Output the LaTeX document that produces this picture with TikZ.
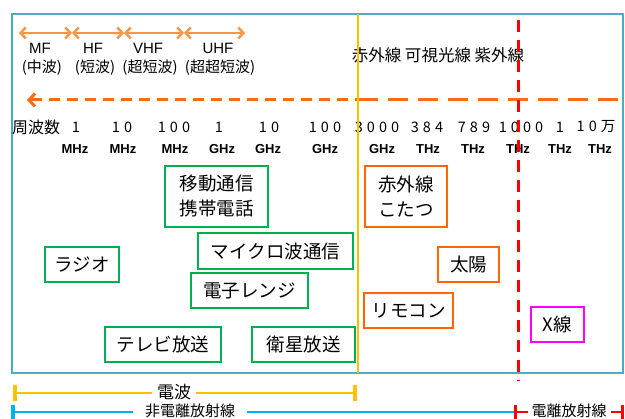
\documentclass[tikz,border=0pt]{standalone}
\usepackage{fontspec}
\setmainfont{Noto Sans CJK JP}
\newfontfamily\latf{Liberation Sans}
\newfontfamily\numf{Noto Sans CJK JP}[LetterSpace=28]
\usetikzlibrary{arrows.meta}
\definecolor{frm}{RGB}{75,172,198}
\definecolor{ylw}{RGB}{255,192,0}
\definecolor{rd}{RGB}{255,0,0}
\definecolor{odsh}{RGB}{255,108,16}
\definecolor{lor}{RGB}{247,150,70}
\definecolor{grn}{RGB}{0,176,80}
\definecolor{bor}{RGB}{255,102,0}
\definecolor{mag}{RGB}{255,0,255}
\definecolor{blu}{RGB}{0,176,240}
\tikzset{
  bx/.style={line width=2pt, inner sep=0pt, font=\fontsize{18.5}{25}\selectfont, align=center},
  gbx/.style={bx, draw=grn},
  obx/.style={bx, draw=bor},
  dblarr/.style={draw=lor, line width=2.5pt, {Straight Barb[length=5pt,width=11pt]}-{Straight Barb[length=5pt,width=11pt]}},
  toplab/.style={inner sep=0pt, font=\latf\fontsize{15}{17}\selectfont},
  topjp/.style={inner sep=0pt, font=\fontsize{15}{17}\selectfont},
  numlab/.style={inner sep=0pt, font=\numf\fontsize{14.5}{16}\selectfont},
  unitlab/.style={inner sep=0pt, font=\latf\bfseries\fontsize{13}{15}\selectfont},
  barlab/.style={inner sep=0pt, inner xsep=5pt, fill=white, font=\fontsize{17}{19}\selectfont},
  barlabs/.style={barlab, font=\fontsize{15}{16}\selectfont},
}
\begin{document}
\begin{tikzpicture}[x=1pt,y=-1pt]
\useasboundingbox (0,0) rectangle (625,419);
% frame
\draw[frm, line width=2pt] (12,14) rectangle (623,373);

% top double arrows
\coordinate (a0) at (19,33);
\coordinate (a1) at (72,33);
\coordinate (a2) at (124,33);
\coordinate (a3) at (184,33);
\coordinate (a4) at (245,33);
\draw[dblarr] (a0) -- (a1);
\draw[dblarr] (a1) -- (a2);
\draw[dblarr] (a2) -- (a3);
\draw[dblarr] (a3) -- (a4);

\node[toplab] (mf) at (40,48) {MF};
\node[toplab] (hf) at (93,48) {HF};
\node[toplab] (vhf) at (148,48) {VHF};
\node[toplab] (uhf) at (218,48) {UHF};
\node[topjp] (mfj) at (42,68) {(中波)};
\node[topjp] (hfj) at (95,68) {(短波)};
\node[topjp] (vhfj) at (150,68) {(超短波)};
\node[topjp] (uhfj) at (220,68) {(超超短波)};

\node[inner sep=0pt, font=\fontsize{16.5}{18}\selectfont] (light) at (438,55) {赤外線 可視光線 紫外線};

% frequency row
\node[inner sep=0pt, anchor=west, font=\fontsize{16}{18}\selectfont] (fq) at (12,127) {周波数};
\foreach \x/\t [count=\i] in {76/1,122/10,174/100,219/1,269/10,325/100,377/3000,427/384,474/789,521/1000,560/1,596/10万}{
  \node[numlab] (n\i) at (\x,127) {\t};
}
\foreach \x/\t [count=\i] in {75/MHz,123/MHz,175/MHz,222/GHz,268/GHz,325/GHz,382/GHz,428/THz,473/THz,518/THz,560/THz,600/THz}{
  \node[unitlab] (u\i) at (\x,149) {\t};
}

% boxes
\node[gbx, minimum width=103pt, minimum height=61pt] (mobile) at (216.5,196.5) {移動通信\\携帯電話};
\node[gbx, minimum width=74pt, minimum height=35pt] (radio) at (82,264.5) {ラジオ};
\node[gbx, minimum width=155pt, minimum height=36pt] (micro) at (275.5,251) {マイクロ波通信};
\node[gbx, minimum width=117pt, minimum height=35pt] (oven) at (249.5,290.5) {電子レンジ};
\node[gbx, minimum width=116pt, minimum height=35pt] (tv) at (163,344.5) {テレビ放送};
\node[gbx, minimum width=103pt, minimum height=35pt] (sat) at (303.5,344.5) {衛星放送};
\node[obx, minimum width=82pt, minimum height=61pt] (ir) at (406,196.5) {赤外線\\こたつ};
\node[obx, minimum width=61pt, minimum height=35pt] (sun) at (468.5,264.5) {太陽};
\node[obx, minimum width=89pt, minimum height=35pt] (remote) at (408.5,310.5) {リモコン};
\node[bx, draw=mag, minimum width=53pt, minimum height=35pt] (xray) at (557.5,324.5) {X線};

% orange dashed arrow line
\coordinate (h0) at (27,100);
\coordinate (h1) at (358,100);
\coordinate (h2) at (623,100);
\draw[odsh, line width=3pt, dash pattern=on 11pt off 7pt, {Straight Barb[length=6pt,width=13pt]}-] (h0) -- (h1);
\draw[odsh, line width=3pt, dash pattern=on 20pt off 10pt] (h1) -- (h2);

% vertical lines
\coordinate (y0) at (358,14);
\coordinate (y1) at (358,373);
\draw[ylw, line width=2pt] (y0) -- (y1);
\coordinate (r0) at (518,20);
\coordinate (r1) at (518,381);
\draw[rd, line width=3pt, dash pattern=on 12pt off 8pt] (r0) -- (r1);

% bottom bars
\coordinate (yb0) at (13,393);
\coordinate (yb1) at (357,393);
\draw[ylw, line width=2.5pt, {Bar[width=16pt,line width=4pt]}-{Bar[width=16pt,line width=4pt]}] (yb0) -- (yb1);
\node[barlab] (denpa) at (174,392) {電波};

\coordinate (bb0) at (13,412);
\coordinate (bb1) at (514,412);
\draw[blu, line width=2.5pt] (bb0) -- (bb1);
\draw[blu, line width=4pt] (13,405) -- (13,422);
\node[barlabs, inner xsep=12pt] (hidenri) at (190,410.5) {非電離放射線};

\coordinate (rb0) at (515,412);
\coordinate (rb1) at (622,412);
\draw[rd, line width=2.5pt] (rb0) -- (rb1);
\draw[rd, line width=3pt] (515,405) -- (515,422);
\draw[rd, line width=3pt] (622,405) -- (622,422);
\node[barlabs, inner xsep=4pt] (denri) at (569,410.5) {電離放射線};
\end{tikzpicture}
\end{document}
